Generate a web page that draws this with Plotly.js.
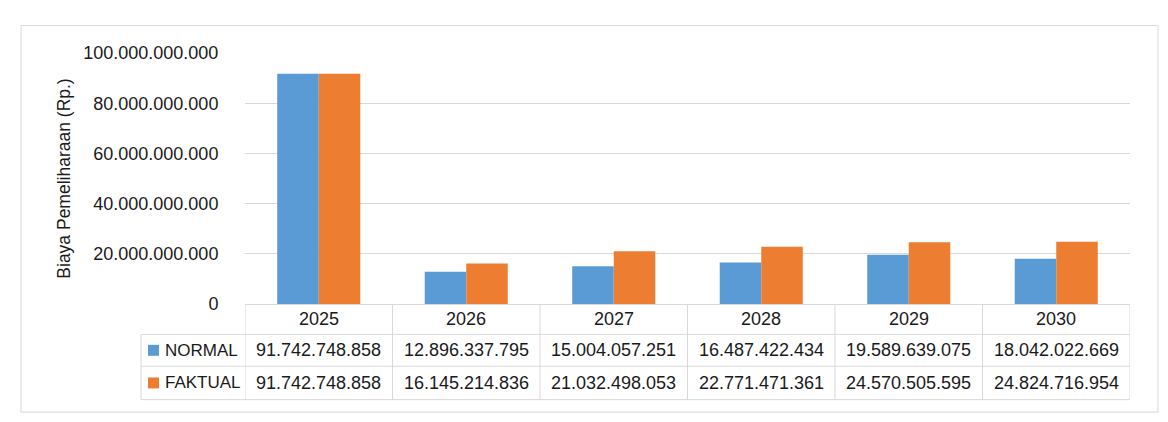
<!DOCTYPE html>
<html>
<head>
<meta charset="utf-8">
<script src="https://cdn.plot.ly/plotly-3.0.1.min.js"></script>
<style>html,body{margin:0;padding:0;background:#fff;}#chart{width:1168px;height:422px;}</style>
</head>
<body>
<div id="chart"></div>
<script>
var years = ['2025', '2026', '2027', '2028', '2029', '2030'];
var normal = [91742748858, 12896337795, 15004057251, 16487422434, 19589639075, 18042022669];
var faktual = [91742748858, 16145214836, 21032498053, 22771471361, 24570505595, 24824716954];
var seriesNames = ['NORMAL', 'FAKTUAL'];
var seriesColors = ['#5B9BD5', '#ED7D31'];
var yTitle = 'Biaya Pemeliharaan (Rp.)';

var W = 1168, H = 422;
var L = 245, R = 1130, T = 52.5, B = 304.5;
function X(px) { return (px - L) / (R - L); }
function Y(py) { return (B - py) / (B - T); }
function fmt(v) { return String(v).replace(/\B(?=(\d{3})+(?!\d))/g, '.'); }

var FONT = 'Liberation Sans, Arial, sans-serif';
var FS = 18;
var TXT = '#1a1a1a';
var LINE = '#d9d9d9';

var seriesVals = [normal, faktual];
var traces = seriesVals.map(function (vals, k) {
  return { type: 'bar', x: years, y: vals, name: seriesNames[k],
           marker: { color: seriesColors[k] }, hoverinfo: 'x+y' };
});

var shapes = [];
var annotations = [];
// outer chart border
shapes.push({ type: 'rect', xref: 'paper', yref: 'paper', x0: X(21), x1: X(1158), y0: Y(25), y1: Y(413),
              line: { color: LINE, width: 1 }, fillcolor: 'rgba(0,0,0,0)', layer: 'below' });

// data table
var headTop = 304.5, headBot = 335, row1Bot = 367, row2Bot = 400.5;
var legLeft = 141;
function hline(x0, x1, py) {
  shapes.push({ type: 'line', xref: 'paper', yref: 'paper', x0: x0, x1: x1, y0: Y(py), y1: Y(py), line: { color: LINE, width: 1 } });
}
function vline(x, xref, py0, py1) {
  shapes.push({ type: 'line', xref: xref, yref: 'paper', x0: x, x1: x, y0: Y(py0), y1: Y(py1), line: { color: LINE, width: 1 } });
}
hline(X(legLeft), 1, headBot);
hline(X(legLeft), 1, row1Bot);
hline(X(legLeft), 1, row2Bot);
vline(X(legLeft), 'paper', headBot, row2Bot);
for (var i = 0; i <= years.length; i++) {
  vline(i - 0.5, 'x', headTop, row2Bot);
}
function cellText(xIdx, py, txt) {
  annotations.push({ x: xIdx, xref: 'x', y: Y(py), yref: 'paper', text: txt, showarrow: false,
                     xanchor: 'center', yanchor: 'middle', font: { family: FONT, size: FS, color: TXT } });
}
years.forEach(function (yr, i) { cellText(i, (headTop + headBot) / 2, yr); });
var rowCenters = [(headBot + row1Bot) / 2, (row1Bot + row2Bot) / 2];
seriesVals.forEach(function (vals, k) {
  var yc = rowCenters[k];
  shapes.push({ type: 'rect', xref: 'paper', yref: 'paper', x0: X(148), x1: X(159), y0: Y(yc - 5.5), y1: Y(yc + 5.5),
                line: { width: 0 }, fillcolor: seriesColors[k] });
  annotations.push({ x: X(163), xref: 'paper', y: Y(yc), yref: 'paper', text: seriesNames[k], showarrow: false,
                     xanchor: 'left', yanchor: 'middle', font: { family: FONT, size: FS - 1, color: TXT } });
  vals.forEach(function (v, i) { cellText(i, yc, fmt(v)); });
});

var layout = {
  width: W, height: H,
  margin: { l: L, r: W - R, t: T, b: H - B, pad: 0 },
  paper_bgcolor: '#ffffff', plot_bgcolor: '#ffffff',
  separators: ',.',
  showlegend: false,
  barmode: 'group', bargap: 0.437, bargroupgap: 0,
  font: { family: FONT, size: FS, color: TXT },
  xaxis: { type: 'category', range: [-0.5, years.length - 0.5], showticklabels: false, ticks: '',
           showline: true, linecolor: LINE, linewidth: 1, showgrid: false, zeroline: false, fixedrange: true },
  yaxis: { range: [0, 100000000000], dtick: 20000000000, tick0: 0, tickformat: ',d',
           showgrid: true, gridcolor: LINE, gridwidth: 1, zeroline: false, showline: false,
           ticks: 'outside', ticklen: 22, tickcolor: 'rgba(0,0,0,0)',
           tickfont: { family: FONT, size: FS, color: TXT },
           title: { text: yTitle, standoff: 8, font: { family: FONT, size: 17.5, color: TXT } },
           automargin: false, fixedrange: true },
  shapes: shapes,
  annotations: annotations
};

Plotly.newPlot('chart', traces, layout, { displayModeBar: false, staticPlot: true });
</script>
</body>
</html>
